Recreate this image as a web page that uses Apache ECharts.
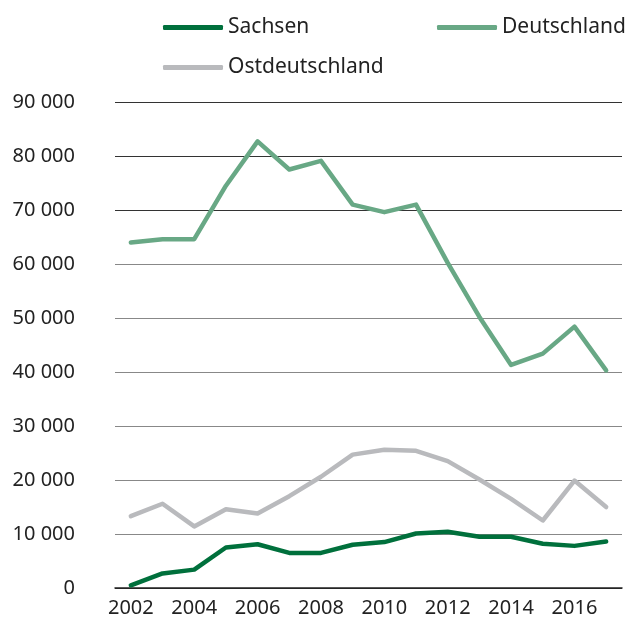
<!DOCTYPE html>
<html>
<head>
<meta charset="utf-8">
<script src="https://cdn.jsdelivr.net/npm/echarts@6/dist/echarts.min.js"></script>
<style>
  html, body { margin: 0; padding: 0; background: #fff; }
  #chart { width: 629px; height: 621px; }
</style>
</head>
<body>
<div id="chart"></div>
<script>
// years on the x axis
var years = ["2002", "2003", "2004", "2005", "2006", "2007", "2008", "2009",
  "2010", "2011", "2012", "2013", "2014", "2015", "2016", "2017"];

var sachsen = [500, 2700, 3400, 7500, 8100, 6500, 6500, 8000,
  8500, 10100, 10400, 9500, 9500, 8200, 7800, 8600];
var deutschland = [64000, 64600, 64600, 74500, 82700, 77500, 79100, 71000,
  69600, 71000, 60200, 50200, 41300, 43400, 48400, 40300];
var ostdeutschland = [13300, 15600, 11400, 14600, 13800, 17000, 20600, 24700,
  25600, 25400, 23500, 20100, 16500, 12500, 19900, 15000];

var font = "'Noto Sans', sans-serif";
var textColor = "#222";

var myChart = echarts.init(document.getElementById("chart"));

function legendItem(name, left, top) {
  return {
    data: [name],
    left: left,
    top: top,
    icon: "roundRect",
    itemWidth: 60,
    itemHeight: 5,
    padding: 0,
    textStyle: { fontFamily: font, fontSize: 21, color: textColor }
  };
}

function line(name, data, color) {
  return {
    name: name,
    type: "line",
    data: data,
    symbol: "none",
    itemStyle: { color: color },
    lineStyle: { color: color, width: 4.5, cap: "round", join: "round" }
  };
}

var option = {
  backgroundColor: "#fff",
  animation: false,
  legend: [
    legendItem("Sachsen", 163, 17),
    legendItem("Deutschland", 437, 17),
    legendItem("Ostdeutschland", 163, 57)
  ],
  grid: {
    left: 115,
    right: 7,
    top: 102,
    bottom: 33,
    containLabel: false
  },
  xAxis: {
    type: "category",
    data: years,
    boundaryGap: true,
    axisTick: { show: false },
    axisLine: { lineStyle: { color: "#222", width: 1.5 } },
    axisLabel: {
      interval: 1,
      margin: 10,
      fontFamily: font,
      fontSize: 20,
      color: textColor
    }
  },
  yAxis: {
    type: "value",
    min: 0,
    max: 90000,
    interval: 10000,
    axisLine: { show: false },
    axisTick: { show: false },
    splitLine: {
      lineStyle: {
        color: ["#333", "#888", "#888", "#888", "#888", "#888", "#888", "#333", "#333", "#333"],
        width: 1.2
      }
    },
    axisLabel: {
      margin: 40,
      fontFamily: font,
      fontSize: 20,
      color: textColor,
      formatter: function (v) {
        return String(v).replace(/\B(?=(\d{3})+(?!\d))/g, " ");
      }
    }
  },
  series: [
    line("Ostdeutschland", ostdeutschland, "#b9babd"),
    line("Deutschland", deutschland, "#68a885"),
    line("Sachsen", sachsen, "#00703c")
  ]
};

myChart.setOption(option);
</script>
</body>
</html>
